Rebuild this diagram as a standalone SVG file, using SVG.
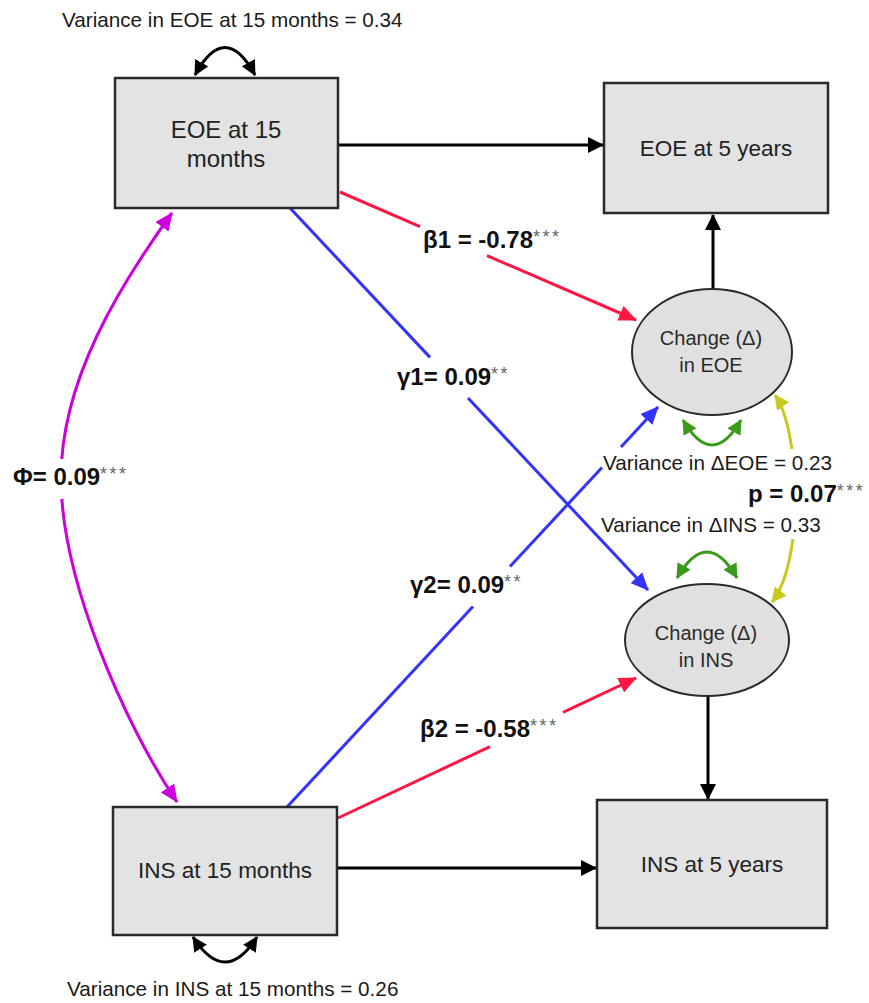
<svg xmlns="http://www.w3.org/2000/svg" width="869" height="1003" viewBox="0 0 869 1003">
<style>
  .box{fill:#e3e3e3;stroke:#2a2a2a;stroke-width:2.5}
  .ell{fill:#e0e0e0;stroke:#2a2a2a;stroke-width:2}
  .t{font-family:"Liberation Sans",Arial,sans-serif;fill:#1a1a1a}
  .node{font-size:22.5px;text-anchor:middle;fill:#222}
  .ellt{font-size:20px;text-anchor:middle;fill:#2a2a2a}
  .var{font-size:20.7px}
  .coef{font-size:24px;font-weight:bold;fill:#111}
  .ast{font-size:18px;font-weight:normal;fill:#666;letter-spacing:2.5px}
  .k{fill:none;stroke:#000;stroke-width:3}
  .r{fill:none;stroke:#ff1744;stroke-width:3}
  .b{fill:none;stroke:#3333ff;stroke-width:3}
  .m{fill:none;stroke:#cc00dd;stroke-width:3}
  .g{fill:none;stroke:#3a9a1a;stroke-width:3}
  .y{fill:none;stroke:#c8c81e;stroke-width:3}
</style>
<defs>
  <marker id="ak" viewBox="0 0 16 16" refX="15" refY="8" markerWidth="16" markerHeight="16" markerUnits="userSpaceOnUse" orient="auto-start-reverse"><path d="M0,0 L16,8 L0,16 Z" fill="#000"/></marker>
  <marker id="ar" viewBox="0 0 18 16" refX="17" refY="8" markerWidth="18" markerHeight="16" markerUnits="userSpaceOnUse" orient="auto-start-reverse"><path d="M0,0 L18,8 L0,16 Z" fill="#ff1744"/></marker>
  <marker id="ab" viewBox="0 0 18 16" refX="17" refY="8" markerWidth="18" markerHeight="16" markerUnits="userSpaceOnUse" orient="auto-start-reverse"><path d="M0,0 L18,8 L0,16 Z" fill="#3333ff"/></marker>
  <marker id="am" viewBox="0 0 18 16" refX="17" refY="8" markerWidth="18" markerHeight="16" markerUnits="userSpaceOnUse" orient="auto-start-reverse"><path d="M0,0 L18,8 L0,16 Z" fill="#cc00dd"/></marker>
  <marker id="ag" viewBox="0 0 15 15" refX="14" refY="7.5" markerWidth="15" markerHeight="15" markerUnits="userSpaceOnUse" orient="auto-start-reverse"><path d="M0,0 L15,7.5 L0,15 Z" fill="#3a9a1a"/></marker>
  <marker id="ay" viewBox="0 0 15 15" refX="14" refY="7.5" markerWidth="15" markerHeight="15" markerUnits="userSpaceOnUse" orient="auto-start-reverse"><path d="M0,0 L15,7.5 L0,15 Z" fill="#c8c81e"/></marker>
  <marker id="av" viewBox="0 0 15 15" refX="14" refY="7.5" markerWidth="15" markerHeight="15" markerUnits="userSpaceOnUse" orient="auto-start-reverse"><path d="M0,0 L15,7.5 L0,15 Z" fill="#000"/></marker>
</defs>
<rect width="869" height="1003" fill="#fff"/>

<g id="connectors">
  <line class="k" x1="338" y1="145" x2="603" y2="145" marker-end="url(#ak)"/>
  <line class="k" x1="337" y1="868" x2="596" y2="868" marker-end="url(#ak)"/>
  <line class="k" x1="713" y1="289" x2="713" y2="215" marker-end="url(#ak)"/>
  <line class="k" x1="708" y1="696" x2="708" y2="799" marker-end="url(#ak)"/>
  <line class="r" x1="340" y1="192" x2="420" y2="226.6"/>
  <line class="r" x1="487" y1="255.6" x2="636" y2="320" marker-end="url(#ar)"/>
  <line class="r" x1="338" y1="818" x2="490" y2="746.6"/>
  <line class="r" x1="563" y1="712.3" x2="636" y2="678" marker-end="url(#ar)"/>
  <line class="b" x1="290" y1="208" x2="430" y2="357.4"/>
  <line class="b" x1="468" y1="398" x2="648" y2="590" marker-end="url(#ab)"/>
  <line class="b" x1="287" y1="807" x2="473" y2="606.5"/>
  <line class="b" x1="510" y1="566.6" x2="602" y2="467.4"/>
  <line class="b" x1="621" y1="447" x2="658" y2="407" marker-end="url(#ab)"/>
  <path class="m" d="M172,213 C120,285 61,380 61,478 C61,580 125,725 177,802" marker-start="url(#am)" marker-end="url(#am)"/>
  <path class="y" d="M775,395 C800,430 805,560 772,602" marker-start="url(#ay)" marker-end="url(#ay)"/>
  <path class="g" d="M683,420 Q712,470 741,420" marker-start="url(#ag)" marker-end="url(#ag)"/>
  <path class="g" d="M677,578 Q707,526 737,578" marker-start="url(#ag)" marker-end="url(#ag)"/>
  <path class="k" d="M195,75 Q225,20 255,75" marker-start="url(#av)" marker-end="url(#av)"/>
  <path class="k" d="M193,937 Q225,987 257,937" marker-start="url(#av)" marker-end="url(#av)"/>
</g>

<g id="node-eoe15">
  <rect class="box" x="115" y="78" width="223" height="130"/>
  <text class="t node" x="226" y="138" style="font-size:24px">EOE at 15</text>
  <text class="t node" x="226" y="167" style="font-size:24px">months</text>
</g>
<g id="node-eoe5">
  <rect class="box" x="604" y="83" width="224" height="130"/>
  <text class="t node" x="716" y="156">EOE at 5 years</text>
</g>
<g id="node-ins15">
  <rect class="box" x="113" y="807" width="224" height="128"/>
  <text class="t node" x="225" y="878">INS at 15 months</text>
</g>
<g id="node-ins5">
  <rect class="box" x="597" y="800" width="230" height="128"/>
  <text class="t node" x="712" y="872">INS at 5 years</text>
</g>
<g id="node-deoe">
  <ellipse class="ell" cx="712" cy="352" rx="80" ry="63"/>
  <text class="t ellt" x="711" y="345">Change (Δ)</text>
  <text class="t ellt" x="711" y="372">in EOE</text>
</g>
<g id="node-dins">
  <ellipse class="ell" cx="707" cy="640" rx="82" ry="56"/>
  <text class="t ellt" x="706" y="640">Change  (Δ)</text>
  <text class="t ellt" x="706" y="667">in INS</text>
</g>

<g id="labels">
  <rect x="50" y="459" width="24" height="40" fill="#fff"/>
  <rect x="782" y="449" width="24" height="90" fill="#fff"/>
  <text class="t var" x="62" y="27">Variance in EOE at 15 months = 0.34</text>
  <text class="t var" x="67" y="996">Variance in INS at 15 months = 0.26</text>
  <text class="t var" x="603" y="470">Variance in ΔEOE = 0.23</text>
  <text class="t var" x="601" y="532">Variance in ΔINS = 0.33</text>
  <text class="t coef" x="748" y="502">p = 0.07<tspan class="ast" dy="-5">***</tspan></text>
  <text class="t coef" x="13" y="485">Φ= 0.09<tspan class="ast" dy="-5">***</tspan></text>
  <text class="t coef" x="423" y="248">β1 = -0.78<tspan class="ast" dy="-5">***</tspan></text>
  <text class="t coef" x="397" y="385">γ1= 0.09<tspan class="ast" dy="-5">**</tspan></text>
  <text class="t coef" x="410" y="593">γ2= 0.09<tspan class="ast" dy="-5">**</tspan></text>
  <text class="t coef" x="420" y="737">β2 = -0.58<tspan class="ast" dy="-5">***</tspan></text>
</g>
</svg>
